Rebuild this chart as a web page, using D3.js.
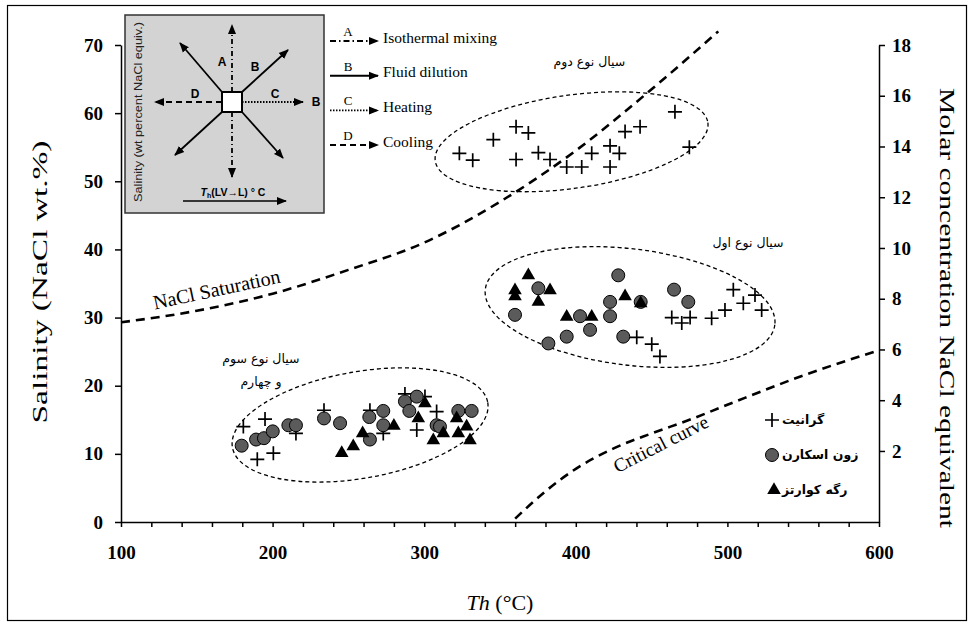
<!DOCTYPE html>
<html>
<head>
<meta charset="utf-8">
<script src="https://cdn.jsdelivr.net/npm/d3@7"></script>
<style>
  body { margin: 0; background: #fff; }
  svg { display: block; }
</style>
</head>
<body>
<div id="chart"></div>
<script>
// homogenisation temperature (Th, °C) vs salinity (NaCl wt.%)
var granite = [
    [323.2, 54.1], [332.0, 53.1], [345.6, 56.1], [360.6, 58.0], [368.7, 57.1], [360.6, 53.2],
    [375.3, 54.2], [383.0, 53.2], [394.0, 52.1], [403.9, 52.1], [410.5, 54.1], [422.6, 55.2],
    [428.7, 54.1], [422.6, 52.1], [432.5, 57.3], [442.4, 58.0], [465.4, 60.2], [474.9, 55.0],
    [440.2, 27.1], [450.1, 26.1], [455.5, 24.3], [463.3, 30.0], [469.9, 29.2], [475.4, 30.0],
    [489.6, 29.9], [498.4, 31.1], [503.9, 34.1], [510.5, 32.1], [518.2, 33.3], [522.6, 31.1],
    [180.7, 14.0], [195.0, 15.1], [189.9, 9.2], [200.5, 10.1], [215.4, 13.0], [233.9, 16.4],
    [264.2, 16.4], [273.0, 13.0], [287.3, 18.8], [300.5, 18.4], [295.1, 13.5], [308.2, 16.2]
];
var skarn = [
    [375.3, 34.3], [359.9, 30.4], [381.9, 26.2], [394.0, 27.2], [402.8, 30.2], [409.4, 28.2],
    [428.0, 36.2], [422.6, 32.3], [422.6, 30.2], [442.8, 32.3], [431.3, 27.2], [464.8, 34.1],
    [474.2, 32.3],
    [179.6, 11.2], [189.1, 12.1], [194.3, 12.3], [200.1, 13.3], [210.4, 14.2], [215.4, 14.2],
    [233.9, 15.2], [244.5, 14.5], [263.8, 15.4], [273.0, 16.3], [273.0, 14.2], [264.2, 12.1],
    [287.3, 17.7], [295.1, 18.4], [290.2, 16.3], [308.2, 14.2], [310.4, 14.0], [322.5, 16.3],
    [331.3, 16.3]
];
var quartzVein = [
    [368.7, 36.2], [359.9, 34.0], [359.9, 33.1], [383.0, 34.0], [375.3, 32.3], [394.0, 30.1],
    [410.5, 30.1], [432.5, 33.1], [442.8, 32.1],
    [245.6, 10.1], [253.2, 11.1], [259.4, 13.0], [280.0, 14.1], [300.5, 17.4], [296.1, 15.2],
    [306.0, 12.0], [312.6, 13.0], [321.4, 15.2], [322.5, 13.0], [328.0, 14.0], [330.2, 12.0]
];
var saturationCurve = [[100, 29.3], [150, 31.0], [200, 33.5], [250, 37.0], [300, 41.0],
    [350, 47.0], [400, 54.5], [450, 63.5], [494, 72]];
var criticalCurve = [[360, 0.5], [380, 4.5], [400, 7.8], [425, 10.8], [450, 13.0],
    [475, 15.0], [500, 17.2], [550, 21.5], [600, 25.2]];
// fluid groups: ellipse centre (Th, wt.%), half axes (°C, wt.%), tilt
var fluidGroups = [
    { name: ['سیال نوع دوم'], th: 397.2, s: 55.8, rth: 90.8, rs: 6.84, tilt: -8, labelTh: 409, labelS: 67.4 },
    { name: ['سیال نوع اول'], th: 435.8, s: 31.55, rth: 96.2, rs: 8.53, tilt: 7, labelTh: 513.6, labelS: 40.8 },
    { name: ['سیال نوع سوم', 'و چهارم'], th: 257.7, s: 14.24, rth: 85.5, rs: 7.82, tilt: -10, labelTh: 192.3, labelS: 23.8 }
];
var xTicks = d3.range(100, 601, 20);
var yTicks = d3.range(0, 71, 10);
var molarTicks = d3.range(2, 19, 2);
var legendLabels = ['گرانیت', 'زون اسکارن', 'رگه کوارتز'];
var processLegend = [
    { letter: 'A', text: 'Isothermal mixing', dash: '6,3,1.5,3' },
    { letter: 'B', text: 'Fluid dilution', dash: null },
    { letter: 'C', text: 'Heating', dash: '1.5,1.5' },
    { letter: 'D', text: 'Cooling', dash: '6,4' }
];

var W = 974, H = 626;
var serif = '"Liberation Serif", "Times New Roman", serif';
var sans = '"Liberation Sans", Arial, sans-serif';
var fa = '"DejaVu Sans", sans-serif';

var svg = d3.select('#chart').append('svg')
    .attr('width', W)
    .attr('height', H);

svg.append('rect')
    .attr('x', 7.5).attr('y', 5.5)
    .attr('width', 959).attr('height', 615)
    .attr('fill', '#fff')
    .attr('stroke', '#000')
    .attr('stroke-width', 1.2);

var x = d3.scaleLinear().domain([100, 600]).range([121, 879]);
var y = d3.scaleLinear().domain([0, 70]).range([522, 45]);
var yMolar = d3.scaleLinear().domain([-0.8, 18]).range([522, 45]);

function styleAxis(g) {
    g.selectAll('path, line').attr('stroke', '#000').attr('stroke-width', 1.5);
    g.selectAll('text')
        .attr('font-family', serif)
        .attr('font-weight', 'bold')
        .attr('font-size', 19)
        .attr('fill', '#000');
}

svg.append('g')
    .attr('transform', 'translate(0,522)')
    .call(d3.axisBottom(x).tickValues(xTicks).tickSize(5).tickSizeOuter(0).tickPadding(19)
        .tickFormat(function(d) { return d % 100 === 0 ? d : ''; }))
    .call(styleAxis);

svg.append('g')
    .attr('transform', 'translate(121,0)')
    .call(d3.axisLeft(y).tickValues(yTicks).tickSize(6).tickSizeOuter(0).tickPadding(12))
    .call(styleAxis);

svg.append('g')
    .attr('transform', 'translate(879,0)')
    .call(d3.axisRight(yMolar).tickValues(molarTicks).tickSize(6).tickSizeOuter(0).tickPadding(7))
    .call(styleAxis);

// axis titles, stretched along their length like the source figure
svg.append('text')
    .attr('transform', 'translate(47,282) rotate(-90)')
    .attr('text-anchor', 'middle')
    .attr('font-family', serif)
    .attr('font-size', 20)
    .attr('textLength', 283)
    .attr('lengthAdjust', 'spacingAndGlyphs')
    .text('Salinity (NaCl wt.%)');

svg.append('text')
    .attr('transform', 'translate(940,308) rotate(90)')
    .attr('text-anchor', 'middle')
    .attr('font-family', serif)
    .attr('font-size', 20)
    .attr('textLength', 440)
    .attr('lengthAdjust', 'spacingAndGlyphs')
    .text('Molar concentration NaCl equivalent');

var xTitle = svg.append('text')
    .attr('x', 500).attr('y', 610)
    .attr('text-anchor', 'middle')
    .attr('font-family', serif)
    .attr('font-size', 22);
xTitle.append('tspan').attr('font-style', 'italic').text('Th');
xTitle.append('tspan').text(' (°C)');

// curves
var line = d3.line()
    .x(function(d) { return x(d[0]); })
    .y(function(d) { return y(d[1]); })
    .curve(d3.curveMonotoneX);

[saturationCurve, criticalCurve].forEach(function(c) {
    svg.append('path')
        .datum(c)
        .attr('d', line)
        .attr('fill', 'none')
        .attr('stroke', '#000')
        .attr('stroke-width', 2.6)
        .attr('stroke-dasharray', '9,6');
});

svg.append('text')
    .attr('transform', 'translate(' + x(164) + ',' + (y(31.7) - 10) + ') rotate(-12)')
    .attr('text-anchor', 'middle')
    .attr('font-family', serif)
    .attr('font-size', 20)
    .text('NaCl  Saturation');

svg.append('text')
    .attr('transform', 'translate(' + x(458) + ',' + (y(13.4) + 19) + ') rotate(-27)')
    .attr('text-anchor', 'middle')
    .attr('font-family', serif)
    .attr('font-size', 19)
    .text('Critical curve');

// fluid inclusion groups
var pxTh = x(101) - x(100), pxS = y(0) - y(1);
fluidGroups.forEach(function(g) {
    svg.append('ellipse')
        .attr('transform', 'translate(' + x(g.th) + ',' + y(g.s) + ') rotate(' + g.tilt + ')')
        .attr('rx', g.rth * pxTh)
        .attr('ry', g.rs * pxS)
        .attr('fill', 'none')
        .attr('stroke', '#000')
        .attr('stroke-width', 1.3)
        .attr('stroke-dasharray', '4,3');
    g.name.forEach(function(n, i) {
        svg.append('text')
            .attr('x', x(g.labelTh))
            .attr('y', y(g.labelS) + i * 23)
            .attr('text-anchor', 'middle')
            .attr('dominant-baseline', 'middle')
            .attr('font-family', fa)
            .attr('font-size', 12.5)
            .text(n);
    });
});

// points
var cross = 'M-7,0H7M0,-7V7';
var tri = d3.symbol().type(d3.symbolTriangle).size(80);

svg.append('g').selectAll('path')
    .data(granite).enter().append('path')
    .attr('transform', function(d) { return 'translate(' + x(d[0]) + ',' + y(d[1]) + ')'; })
    .attr('d', cross)
    .attr('stroke', '#000')
    .attr('stroke-width', 1.7);

svg.append('g').selectAll('circle')
    .data(skarn).enter().append('circle')
    .attr('cx', function(d) { return x(d[0]); })
    .attr('cy', function(d) { return y(d[1]); })
    .attr('r', 6.5)
    .attr('fill', '#5b5b5b')
    .attr('stroke', '#000')
    .attr('stroke-width', 1);

svg.append('g').selectAll('path')
    .data(quartzVein).enter().append('path')
    .attr('transform', function(d) { return 'translate(' + x(d[0]) + ',' + y(d[1]) + ')'; })
    .attr('d', tri)
    .attr('fill', '#000');

// legend
var legend = svg.append('g').attr('transform', 'translate(772,420)');
legendLabels.forEach(function(l, i) {
    var row = legend.append('g').attr('transform', 'translate(0,' + (i * 35) + ')');
    if (i === 0) {
        row.append('path').attr('d', cross).attr('stroke', '#000').attr('stroke-width', 1.7);
    } else if (i === 1) {
        row.append('circle').attr('r', 6.5).attr('fill', '#5b5b5b').attr('stroke', '#000');
    } else {
        row.append('path').attr('d', tri).attr('fill', '#000').attr('transform', 'translate(2,0)');
    }
    row.append('text')
        .attr('x', 10)
        .attr('dominant-baseline', 'middle')
        .attr('font-family', fa)
        .attr('font-weight', 'bold')
        .attr('font-size', 12.5)
        .text(l);
});

// arrow markers
var defs = svg.append('defs');
defs.append('marker')
    .attr('id', 'head')
    .attr('viewBox', '0 0 10 10')
    .attr('refX', 9).attr('refY', 5)
    .attr('markerWidth', 10).attr('markerHeight', 10)
    .attr('markerUnits', 'userSpaceOnUse')
    .attr('orient', 'auto')
    .append('path')
    .attr('d', 'M0,1L10,5L0,9Z')
    .attr('fill', '#000');

// process legend next to the inset
processLegend.forEach(function(p, i) {
    var ly = 41 + i * 34.7;
    svg.append('line')
        .attr('x1', 330).attr('x2', 378)
        .attr('y1', ly).attr('y2', ly)
        .attr('stroke', '#000')
        .attr('stroke-width', p.dash === '1.5,1.5' ? 1.8 : 2)
        .attr('stroke-dasharray', p.dash)
        .attr('marker-end', 'url(#head)');
    svg.append('text')
        .attr('x', 348).attr('y', ly - 5)
        .attr('text-anchor', 'middle')
        .attr('font-family', serif)
        .attr('font-size', 13)
        .text(p.letter);
    svg.append('text')
        .attr('x', 383).attr('y', ly - 2)
        .attr('dominant-baseline', 'middle')
        .attr('font-family', serif)
        .attr('font-size', 15.5)
        .text(p.text);
});

// schematic inset
var inset = svg.append('g').attr('transform', 'translate(125,15)');
inset.append('rect')
    .attr('width', 199).attr('height', 198)
    .attr('fill', '#d3d3d3')
    .attr('stroke', '#333')
    .attr('stroke-width', 1.5);

var arrows = [
    [107, 77, 107, 10, '5,3,1,3'], [107, 97, 107, 162, '5,3,1,3'],
    [97, 87, 30, 87, '6,4'], [117, 87, 178, 87, '1.5,1.5'],
    [97, 77, 55, 28, null], [117, 77, 163, 35, null],
    [97, 97, 50, 140, null], [117, 97, 158, 143, null]
];
arrows.forEach(function(a) {
    inset.append('line')
        .attr('x1', a[0]).attr('y1', a[1])
        .attr('x2', a[2]).attr('y2', a[3])
        .attr('stroke', '#000')
        .attr('stroke-width', 1.8)
        .attr('stroke-dasharray', a[4])
        .attr('marker-end', 'url(#head)');
});
inset.append('rect')
    .attr('x', 97).attr('y', 77)
    .attr('width', 20).attr('height', 20)
    .attr('fill', '#fff')
    .attr('stroke', '#000')
    .attr('stroke-width', 2);

[['A', 97, 48], ['B', 130, 53], ['D', 70, 80], ['C', 150, 80], ['B', 191, 88]].forEach(function(t) {
    inset.append('text')
        .attr('x', t[1]).attr('y', t[2])
        .attr('text-anchor', 'middle')
        .attr('dominant-baseline', 'middle')
        .attr('font-family', sans)
        .attr('font-weight', 'bold')
        .attr('font-size', 12)
        .text(t[0]);
});

inset.append('text')
    .attr('transform', 'translate(14,97) rotate(-90)')
    .attr('text-anchor', 'middle')
    .attr('dominant-baseline', 'middle')
    .attr('font-family', sans)
    .attr('font-size', 10.5)
    .attr('textLength', 180)
    .attr('lengthAdjust', 'spacingAndGlyphs')
    .attr('fill', '#222')
    .text('Salinity (wt percent NaCl equiv.)');

var thLabel = inset.append('text')
    .attr('x', 108).attr('y', 181)
    .attr('text-anchor', 'middle')
    .attr('font-family', sans)
    .attr('font-weight', 'bold')
    .attr('font-size', 10.5);
thLabel.append('tspan').attr('font-style', 'italic').text('T');
thLabel.append('tspan').attr('font-size', 7).attr('dy', 2).text('h');
thLabel.append('tspan').attr('dy', -2).text('(LV→L) ° C');

inset.append('line')
    .attr('x1', 58).attr('y1', 186)
    .attr('x2', 161).attr('y2', 186)
    .attr('stroke', '#000')
    .attr('stroke-width', 1.3)
    .attr('marker-end', 'url(#head)');
</script>
</body>
</html>
